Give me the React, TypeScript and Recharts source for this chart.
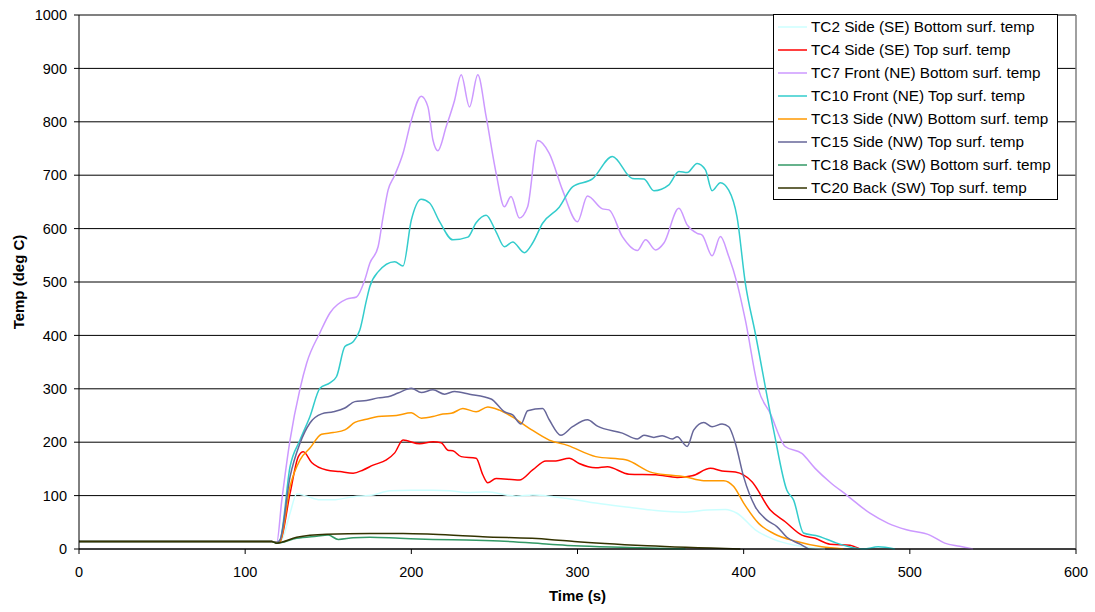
import React from 'react';
import { LineChart, Line, XAxis, YAxis, CartesianGrid, Legend, ReferenceLine } from 'recharts';

// ---- Data (time in s, temperature in deg C) ----
const tc2Time = [0, 50, 100, 116, 119, 122, 127, 131, 137, 145, 153, 165, 177, 187, 200, 213, 223, 233, 245, 263, 273, 283, 293, 311, 331, 347, 365, 378, 389, 396, 407, 418, 431, 449];
const tc2Temp = [14, 14, 14, 14, 12, 17, 67, 103, 99, 92, 92, 98, 101, 109, 110, 110, 109, 106, 107, 99, 101, 99, 95, 86, 78, 72, 69, 73, 74, 67, 36, 18, 7, 0];

const tc4Time = [0, 50, 100, 116, 119, 121, 127, 132, 135, 140, 149, 157, 165, 171, 177, 185, 190, 195, 205, 213, 218, 222, 225, 230, 239, 243, 246, 251, 265, 273, 281, 287, 295, 301, 311, 318, 331, 347, 360, 369, 380, 387, 395, 405, 416, 425, 435, 443, 452, 464, 467, 470];
const tc4Temp = [14, 14, 14, 14, 12, 14, 104, 173, 182, 162, 148, 145, 142, 148, 157, 167, 180, 204, 197, 201, 199, 185, 184, 173, 170, 139, 124, 132, 129, 148, 165, 165, 170, 160, 152, 154, 140, 139, 134, 137, 151, 146, 144, 126, 73, 51, 26, 20, 9, 7, 4, 0];

const tc7Time = [0, 50, 100, 116, 119, 122, 127, 133, 137, 145, 151, 161, 167, 172, 175, 180, 183, 186, 190, 195, 200, 206, 210, 213, 216, 221, 226, 230, 235, 240, 245, 251, 256, 260, 265, 270, 276, 283, 291, 300, 306, 315, 319, 327, 336, 341, 347, 352, 361, 366, 372, 375, 381, 386, 391, 396, 401, 409, 416, 425, 435, 443, 452, 462, 476, 487, 498, 512, 521, 530, 538];
const tc7Temp = [14, 14, 14, 14, 12, 90, 204, 300, 348, 405, 442, 468, 472, 504, 535, 566, 622, 672, 700, 741, 803, 848, 828, 766, 746, 791, 840, 888, 828, 888, 810, 704, 641, 660, 620, 641, 765, 741, 672, 613, 661, 637, 635, 585, 559, 579, 560, 573, 638, 607, 591, 588, 549, 585, 548, 498, 429, 298, 254, 192, 179, 151, 125, 101, 67, 48, 36, 26, 11, 5, 0];

const tc10Time = [0, 50, 100, 116, 119, 121, 127, 133, 139, 145, 151, 155, 160, 165, 169, 173, 175, 180, 190, 195, 200, 206, 211, 217, 225, 234, 239, 245, 251, 256, 261, 268, 273, 279, 289, 297, 309, 321, 333, 340, 346, 355, 361, 366, 372, 377, 381, 386, 391, 396, 401, 407, 418, 426, 430, 436, 445, 456, 472, 481, 491];
const tc10Temp = [14, 14, 14, 14, 12, 17, 154, 204, 248, 301, 311, 323, 379, 388, 410, 466, 491, 519, 538, 530, 616, 655, 648, 613, 579, 584, 611, 625, 594, 566, 575, 555, 573, 610, 640, 678, 693, 735, 694, 693, 671, 682, 707, 705, 722, 710, 671, 686, 672, 622, 498, 404, 223, 110, 92, 30, 24, 11, 0, 4, 0];

const tc13Time = [0, 50, 100, 116, 119, 121, 127, 133, 139, 146, 153, 160, 166, 173, 180, 191, 200, 206, 213, 219, 224, 231, 239, 246, 253, 261, 271, 283, 294, 311, 329, 345, 365, 376, 388, 394, 400, 409, 418, 432, 447, 460];
const tc13Temp = [14, 14, 14, 14, 12, 14, 117, 167, 189, 215, 218, 223, 237, 243, 248, 250, 255, 245, 248, 253, 254, 263, 257, 266, 260, 247, 226, 204, 194, 173, 167, 143, 135, 128, 128, 117, 86, 48, 29, 14, 4, 0];

const tc15Time = [0, 50, 100, 116, 119, 121, 127, 133, 139, 146, 153, 160, 166, 173, 180, 186, 192, 200, 206, 213, 220, 226, 235, 248, 256, 261, 266, 270, 279, 283, 290, 297, 306, 312, 327, 336, 340, 346, 351, 357, 360, 366, 370, 376, 381, 387, 391, 395, 400, 407, 414, 420, 426, 434, 439];
const tc15Temp = [14, 14, 14, 14, 12, 17, 135, 198, 236, 253, 257, 264, 276, 278, 283, 285, 292, 301, 293, 298, 290, 295, 290, 281, 257, 251, 234, 259, 263, 242, 213, 229, 242, 230, 217, 206, 213, 209, 212, 206, 210, 192, 223, 237, 229, 234, 229, 198, 135, 79, 54, 42, 22, 9, 0];

const tc18Time = [0, 50, 100, 116, 119, 131, 143, 150, 156, 165, 175, 193, 213, 233, 253, 283, 298, 331, 365];
const tc18Temp = [14, 14, 14, 14, 11, 20, 24, 26, 18, 21, 22, 20, 18, 17, 15, 9, 6, 3, 0];

const tc20Time = [0, 50, 100, 116, 119, 131, 149, 175, 195, 213, 243, 283, 298, 342, 398];
const tc20Temp = [14, 14, 14, 14, 11, 22, 27.5, 29, 29, 27.5, 23, 18, 14, 6, 0];

const xTicks = [0, 100, 200, 300, 400, 500, 600];
const yTicks = [0, 100, 200, 300, 400, 500, 600, 700, 800, 900, 1000];

const seriesNames = [
  'TC2 Side (SE) Bottom surf. temp',
  'TC4 Side (SE) Top surf. temp',
  'TC7 Front (NE) Bottom surf. temp',
  'TC10 Front (NE) Top surf. temp',
  'TC13 Side (NW) Bottom surf. temp',
  'TC15 Side (NW) Top surf. temp',
  'TC18 Back (SW) Bottom surf. temp',
  'TC20 Back (SW) Top surf. temp',
];
const seriesColors = ['#CCFFFF', '#FF0000', '#CC99FF', '#33CCCC', '#FF9900', '#666699', '#339966', '#333300'];
const seriesTimes = [tc2Time, tc4Time, tc7Time, tc10Time, tc13Time, tc15Time, tc18Time, tc20Time];
const seriesTemps = [tc2Temp, tc4Temp, tc7Temp, tc10Temp, tc13Temp, tc15Temp, tc18Temp, tc20Temp];

const series = seriesNames.map((name, i) => ({
  name,
  color: seriesColors[i],
  data: seriesTimes[i].map((t, j) => ({ t, v: seriesTemps[i][j] })),
}));

const FONT = '"Liberation Sans", Arial, sans-serif';

const renderLegend = () => (
  <div
    style={{
      background: '#fff',
      border: '1px solid #000',
      boxSizing: 'border-box',
      width: 285,
      height: 186,
      padding: '1px 0 0 4px',
      fontFamily: FONT,
      fontSize: 15.3,
      color: '#000',
    }}
  >
    {series.map((s) => (
      <div key={s.name} style={{ display: 'flex', alignItems: 'center', height: 22.9, whiteSpace: 'nowrap' }}>
        <svg width={30} height={4} style={{ marginRight: 3, flexShrink: 0 }}>
          <line x1={0} y1={2} x2={29} y2={2} stroke={s.color} strokeWidth={1.5} />
        </svg>
        <span>{s.name}</span>
      </div>
    ))}
  </div>
);

const YLabel = (props: any) => {
  const vb = props.viewBox || { x: 0, y: 15, width: 79, height: 534 };
  const cy = vb.y + vb.height / 2;
  const cx = 18;
  return (
    <text
      x={cx}
      y={cy}
      transform={`rotate(-90, ${cx}, ${cy})`}
      textAnchor="middle"
      dominantBaseline="central"
      fontFamily={FONT}
      fontSize={15}
      fontWeight="bold"
      fill="#000"
    >
      Temp (deg C)
    </text>
  );
};

export default function App() {
  return (
    <div style={{ position: 'absolute', left: 0, top: 0, width: 1095, height: 612, background: '#fff' }}>
      <LineChart width={1095} height={612} margin={{ top: 15, right: 19, bottom: 0, left: 0 }}>
        <CartesianGrid vertical={false} stroke="#000" strokeWidth={1} />
        <XAxis
          type="number"
          dataKey="t"
          domain={[0, 600]}
          ticks={xTicks}
          allowDuplicatedCategory={false}
          height={63}
          tickSize={5}
          tickMargin={13}
          axisLine={{ stroke: '#000' }}
          tickLine={{ stroke: '#000' }}
          tick={{ fill: '#000', fontFamily: FONT, fontSize: 14.5 }}
          label={{ value: 'Time (s)', position: 'insideBottom', offset: 11, fill: '#000', fontFamily: FONT, fontSize: 15, fontWeight: 'bold' }}
        />
        <YAxis
          type="number"
          domain={[0, 1000]}
          ticks={yTicks}
          width={79}
          tickSize={5}
          tickMargin={7}
          axisLine={{ stroke: '#000' }}
          tickLine={{ stroke: '#000' }}
          tick={{ fill: '#000', fontFamily: FONT, fontSize: 14.5 }}
          label={<YLabel />}
        />
        <ReferenceLine y={1000} stroke="#808080" strokeWidth={1.5} />
        <ReferenceLine x={600} stroke="#808080" strokeWidth={1.5} />
        {series.map((s) => (
          <Line
            key={s.name}
            data={s.data}
            dataKey="v"
            name={s.name}
            type="monotone"
            stroke={s.color}
            strokeWidth={1.5}
            dot={false}
            activeDot={false}
            isAnimationActive={false}
          />
        ))}
        <Legend
          layout="horizontal"
          verticalAlign="middle"
          align="center"
          content={renderLegend}
          wrapperStyle={{ left: 773, top: 14, width: 285, height: 186 }}
        />
      </LineChart>
    </div>
  );
}
